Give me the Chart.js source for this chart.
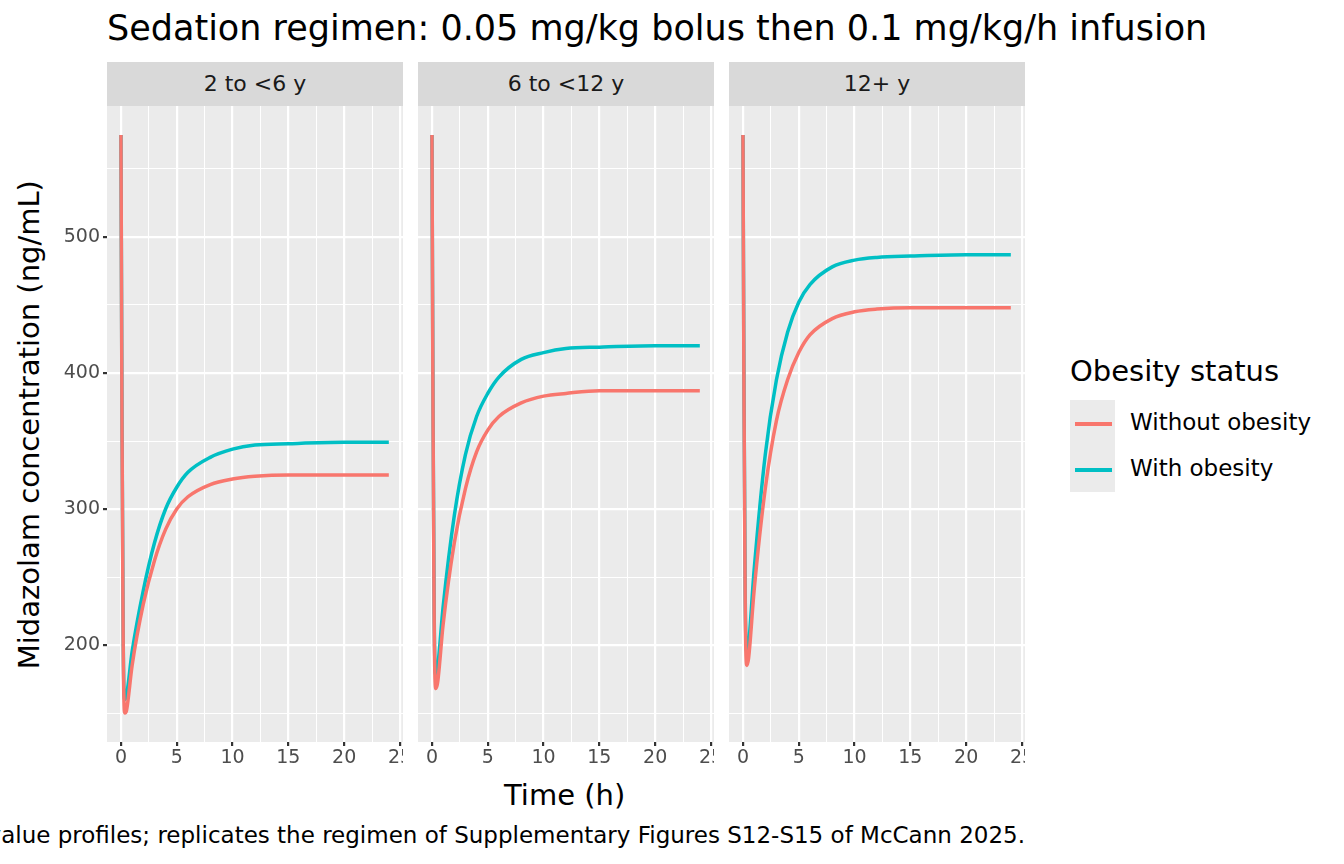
<!DOCTYPE html>
<html><head><meta charset="utf-8">
<script src="https://cdn.jsdelivr.net/npm/chart.js@4"></script>
<style>
body{margin:0;width:1344px;height:864px;background:#fff;position:relative;overflow:hidden;font-family:"DejaVu Sans",sans-serif;}
.abs{position:absolute;white-space:nowrap;line-height:1.15;}
.strip{position:absolute;top:62px;height:44px;width:296px;background:#d9d9d9;color:#1a1a1a;font-size:22px;line-height:44px;text-align:center;}
canvas{position:absolute;}
</style></head><body>
<div class="abs" style="left:107px;top:8px;font-size:35px;color:#000">Sedation regimen: 0.05 mg/kg bolus then 0.1 mg/kg/h infusion</div>
<div class="abs" style="left:504px;top:779px;font-size:29px;color:#000">Time (h)</div>
<div class="abs" style="left:-220px;top:408px;font-size:29px;transform:rotate(-90deg);width:500px;text-align:center">Midazolam concentration (ng/mL)</div>
<div class="abs" style="right:319px;top:822px;font-size:23px;color:#000">Typical-value profiles; replicates the regimen of Supplementary Figures S12-S15 of McCann 2025.</div>
<div class="abs" style="left:1070px;top:355px;font-size:29px">Obesity status</div>
<div class="abs" style="left:1070px;top:400px;width:45px;height:92px;background:#ebebeb"></div>
<div class="abs" style="left:1075px;top:422px;width:37px;height:3.5px;background:#F8766D"></div>
<div class="abs" style="left:1075px;top:468px;width:37px;height:3.5px;background:#00BFC4"></div>
<div class="abs" style="left:1130px;top:409px;font-size:23px">Without obesity</div>
<div class="abs" style="left:1130px;top:455px;font-size:23px">With obesity</div>
<script>
const panels = ["2 to <6 y", "6 to <12 y", "12+ y"];
const times = [0,0.1,0.2,0.35,0.5,1,2,3,4,5,6,8,10,12,15,20,24];
const without = [
 [575,350,200,150,152,185,230,262,285,300,309,318,322,324,325,325,325],
 [575,360,215,168,172,215,275,315,342,358,368,378,383,385,387,387,387],
 [575,370,230,185,190,240,315,365,395,415,428,440,445,447,448,448,448]];
const withOb = [
 [575,355,205,160,163,195,240,275,300,316,327,338,344,347,348,349,349],
 [575,365,222,178,183,228,295,340,368,385,397,410,415,418,419,420,420],
 [575,375,238,195,200,255,340,395,430,452,465,478,483,485,486,487,487]];
const xTicks = [0,5,10,15,20,25];
const yTicks = [200,300,400,500];

const panelLeft = [107,418,729];
const bg = {id:'bg',beforeDraw(c){const a=c.chartArea,x=c.ctx;x.save();x.fillStyle='#ebebeb';x.fillRect(a.left,a.top,a.right-a.left,a.bottom-a.top);x.restore();}};
panels.forEach((p,i)=>{
  const s=document.createElement('div');s.className='strip';s.style.left=panelLeft[i]+'px';s.textContent=p;document.body.appendChild(s);
  const first=i===0;
  const cl=first?50:panelLeft[i];
  const cv=document.createElement('canvas');
  const w=panelLeft[i]+296-cl;
  cv.style.left=cl+'px';cv.style.top='106px';cv.style.width=w+'px';cv.style.height='670px';
  cv.width=w;cv.height=670;
  document.body.appendChild(cv);
  const mk=v=>times.map((t,k)=>({x:t,y:v[k]}));
  new Chart(cv,{type:'line',plugins:[bg],
    data:{datasets:[
      {data:mk(without[i]),borderColor:'#F8766D',borderWidth:3.5,pointRadius:0,cubicInterpolationMode:'monotone'},
      {data:mk(withOb[i]),borderColor:'#00BFC4',borderWidth:3.5,pointRadius:0,cubicInterpolationMode:'monotone'}]},
    options:{responsive:false,animation:false,devicePixelRatio:1,layout:{padding:0},
      plugins:{legend:{display:false},tooltip:{enabled:false}},
      scales:{
        x:{type:'linear',min:-1.25,max:25.27,
          afterBuildTicks(a){a.ticks=[];for(let v=0;v<=25;v+=2.5)a.ticks.push({value:v});},
          afterFit(a){a.height=34;a.paddingLeft=0;a.paddingRight=0;},
          border:{display:false},
          grid:{color:c=>'#fff',lineWidth:c=>c.tick&&c.tick.value%5===0?2.2:1,tickLength:4,
            tickColor:c=>c.tick&&c.tick.value%5===0?'#333':'rgba(0,0,0,0)'},
          ticks:{autoSkip:false,maxRotation:0,color:'#4d4d4d',font:{size:19,family:'DejaVu Sans'},padding:1,
            callback:v=>xTicks.includes(v)?String(v):''}},
        y:{min:128.7,max:596.3,
          afterBuildTicks(a){a.ticks=[];for(let v=150;v<=550;v+=50)a.ticks.push({value:v});},
          afterFit(a){a.width=first?57:0;a.paddingTop=0;a.paddingBottom=0;},
          border:{display:false},
          grid:{color:'#fff',lineWidth:c=>c.tick&&c.tick.value%100===0?2.2:1,tickLength:first?4:0,
            tickColor:c=>first&&c.tick&&c.tick.value%100===0?'#333':'rgba(0,0,0,0)'},
          ticks:{display:first,autoSkip:false,color:'#4d4d4d',font:{size:19,family:'DejaVu Sans'},padding:3,
            callback:v=>yTicks.includes(v)?String(v):''}}
      }}});
});
</script>
</body></html>
